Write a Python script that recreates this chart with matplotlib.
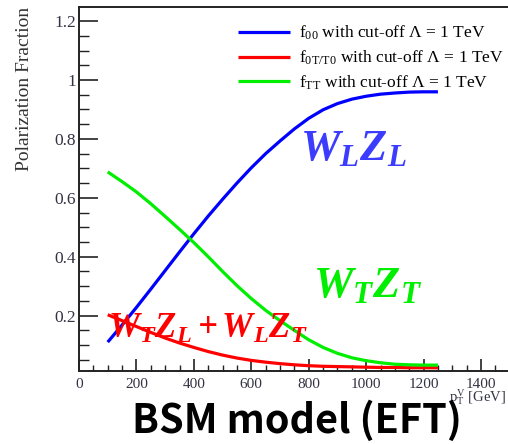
import matplotlib
matplotlib.use("Agg")
import matplotlib.pyplot as plt
from matplotlib.ticker import MultipleLocator, FixedLocator

plt.rcParams["mathtext.fontset"] = "custom"
plt.rcParams["mathtext.rm"] = "Liberation Serif"
plt.rcParams["mathtext.it"] = "Liberation Serif:italic"
plt.rcParams["mathtext.bf"] = "Liberation Serif:bold"
plt.rcParams["mathtext.bfit"] = "Liberation Serif:italic:bold"
plt.rcParams["font.family"] = "Liberation Serif"

# transverse momentum of the vector boson [GeV]
pt = [100, 150, 200, 250, 300, 350, 400, 450, 500, 550, 600, 650,
      700, 750, 800, 850, 900, 950, 1000, 1050, 1100, 1150, 1200, 1250]

f00 = [0.110, 0.168, 0.228, 0.290, 0.353, 0.416, 0.478, 0.538, 0.595, 0.650,
       0.702, 0.750, 0.793, 0.834, 0.870, 0.899, 0.920, 0.935, 0.945, 0.952,
       0.956, 0.959, 0.960, 0.960]
f0T = [0.203, 0.183, 0.163, 0.143, 0.124, 0.107, 0.092, 0.078, 0.066, 0.056,
       0.048, 0.042, 0.037, 0.033, 0.030, 0.028, 0.027, 0.026, 0.025, 0.024,
       0.024, 0.023, 0.023, 0.023]
fTT = [0.688, 0.655, 0.620, 0.580, 0.537, 0.493, 0.448, 0.400, 0.350, 0.302,
       0.258, 0.218, 0.183, 0.150, 0.118, 0.092, 0.072, 0.057, 0.047, 0.040,
       0.035, 0.033, 0.032, 0.032]

labels = [r"f$_{\rm 00}$ with cut-off $\Lambda$ = 1 TeV",
          r"f$_{\rm 0T/T0}$ with cut-off $\Lambda$ = 1 TeV",
          r"f$_{\rm TT}$ with cut-off $\Lambda$ = 1 TeV"]

fig = plt.figure(figsize=(5.08, 4.44), dpi=100)
ax = fig.add_axes([79 / 508, 1 - 371 / 444, 1 - 79 / 508, (371 - 7) / 444])

lw = 2.3
ax.plot(pt, f00, color="#0000ff", lw=lw, label=labels[0], solid_capstyle="butt")
ax.plot(pt, f0T, color="#ff0000", lw=lw, label=labels[1], solid_capstyle="butt")
ax.plot(pt, fTT, color="#00ee00", lw=lw, label=labels[2], solid_capstyle="butt")

ax.set_xlim(0, 1494)
ax.set_ylim(0.012, 1.248)

ax.xaxis.set_major_locator(MultipleLocator(200))
ax.xaxis.set_minor_locator(MultipleLocator(50))
ax.yaxis.set_major_locator(FixedLocator([0.2, 0.4, 0.6, 0.8, 1.0, 1.2]))
ax.yaxis.set_minor_locator(MultipleLocator(0.05))
ax.set_yticklabels(["0.2", "0.4", "0.6", "0.8", "1", "1.2"])

ax.tick_params(axis="x", which="major", direction="in", length=9, width=1.2,
               labelsize=11, pad=5, colors="#222222", labelcolor="#333344")
ax.tick_params(axis="x", which="minor", direction="in", length=4.5, width=1.0,
               colors="#222222")
ax.tick_params(axis="y", which="major", direction="in", length=14, width=1.2,
               labelsize=12.5, pad=2, colors="#222222", labelcolor="#333344")
ax.tick_params(axis="y", which="minor", direction="in", length=7, width=1.0,
               colors="#222222")

for side in ("left", "bottom", "top"):
    ax.spines[side].set_linewidth(1.4)
    ax.spines[side].set_color("#222222")
ax.spines["right"].set_visible(False)

fig.text(25 / 508, 1 - 7 / 444, "Polarization Fraction", rotation=90,
         ha="center", va="top", fontsize=14, color="#333333")
fig.text(449 / 508, 1 - 401 / 444, r"p$_{\rm T}^{\rm V}$ [GeV]",
         ha="left", va="baseline", fontsize=10.5, color="#333344")

ax.legend(loc="upper left", frameon=False, fontsize=12.5,
          bbox_to_anchor=((238 - 79) / 429, 1 - 17 / 364),
          handlelength=3.0, handletextpad=0.5, labelspacing=0.36,
          borderaxespad=0, borderpad=0)

ax.text(770, 0.728, r"$\mathbfit{W_LZ_L}$", color="#3c3cff", fontsize=32,
        ha="left", va="baseline")
ax.text(815, 0.263, r"$\mathbfit{W_TZ_T}$", color="#00ee00", fontsize=32,
        ha="left", va="baseline")
ax.text(100, 0.124, r"$\mathbfit{W_TZ_L+W_LZ_T}$", color="#ff0000", fontsize=25,
        ha="left", va="baseline")

fig.text(297 / 508, 1 - 433 / 444, "BSM model (EFT)", ha="center", va="baseline",
         fontsize=28.5, fontweight="bold", family=["Noto Sans CJK SC", "DejaVu Sans"])

fig.savefig("out.png", dpi=100)
